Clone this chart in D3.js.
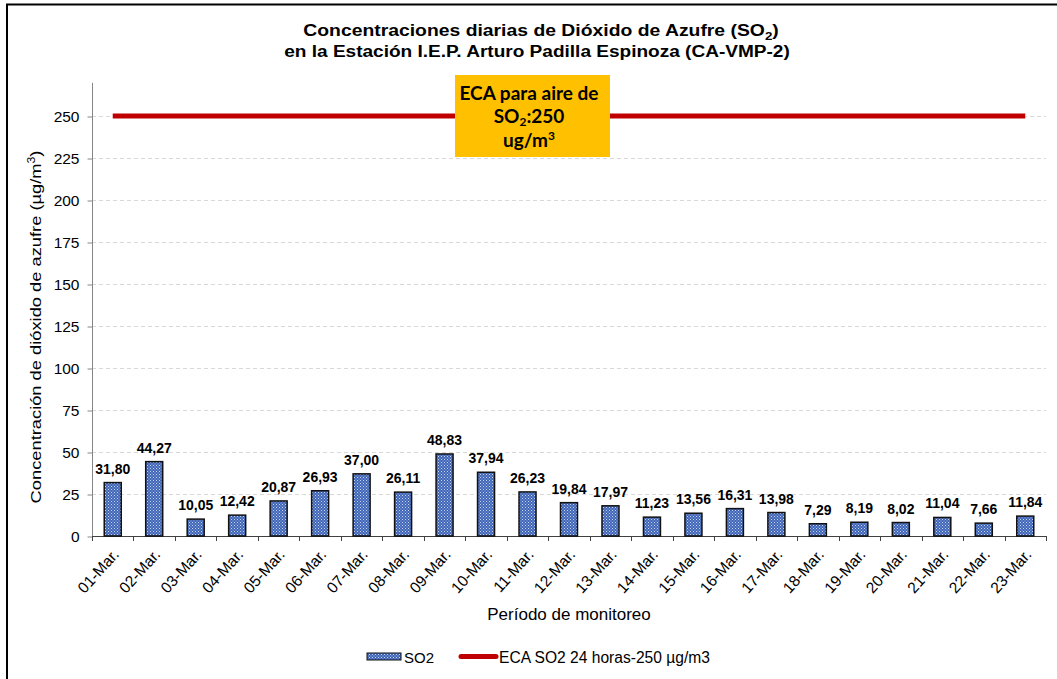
<!DOCTYPE html>
<html><head><meta charset="utf-8">
<script src="https://cdn.jsdelivr.net/npm/d3@7"></script>
<style>
html,body{margin:0;padding:0;background:#fff;}
svg{display:block;font-family:"Liberation Sans",Arial,sans-serif;}
</style></head><body>
<svg id="c" width="1057" height="679"></svg>
<script>
const categories = ["01-Mar.","02-Mar.","03-Mar.","04-Mar.","05-Mar.","06-Mar.","07-Mar.","08-Mar.","09-Mar.","10-Mar.","11-Mar.","12-Mar.","13-Mar.","14-Mar.","15-Mar.","16-Mar.","17-Mar.","18-Mar.","19-Mar.","20-Mar.","21-Mar.","22-Mar.","23-Mar."];
const so2 = [31.80,44.27,10.05,12.42,20.87,26.93,37.00,26.11,48.83,37.94,26.23,19.84,17.97,11.23,13.56,16.31,13.98,7.29,8.19,8.02,11.04,7.66,11.84];
const eca = categories.map(() => 250);
const yTicks = [0,25,50,75,100,125,150,175,200,225,250];

const svg = d3.select("#c");
const x = d3.scaleBand().domain(categories).range([92,1046]).paddingInner(0.59).paddingOuter(0.295);
const y = d3.scaleLinear().domain([0,270]).range([536, 536-270*420/250]);

// pattern
const defs = svg.append("defs");
const pat = defs.append("pattern").attr("id","dots").attr("patternUnits","userSpaceOnUse").attr("width",3).attr("height",3);
pat.append("rect").attr("width",3).attr("height",3).attr("fill","#4066b8");
pat.append("rect").attr("x",0).attr("y",0).attr("width",1).attr("height",1).attr("fill","#c8d5f0");
pat.append("rect").attr("x",1.5).attr("y",1.5).attr("width",1).attr("height",1).attr("fill","#aabde8");

// frame
svg.append("line").attr("x1",6).attr("x2",1057).attr("y1",4.5).attr("y2",4.5).attr("stroke","#000").attr("stroke-width",2);
svg.append("line").attr("x1",7).attr("x2",7).attr("y1",4).attr("y2",679).attr("stroke","#000").attr("stroke-width",2);

// gridlines
svg.append("g").selectAll("line").data(yTicks.filter(d=>d>0)).join("line")
  .attr("x1",92).attr("x2",1046).attr("y1",d=>Math.round(y(d))+0.5).attr("y2",d=>Math.round(y(d))+0.5)
  .attr("stroke","#d9d9d9").attr("stroke-dasharray","4,3").attr("stroke-width",1);

// axes
const yAxis = d3.axisLeft(y).tickValues(yTicks).tickSize(5).tickSizeOuter(0);
const gy = svg.append("g").attr("transform","translate(92.5,0.5)").call(yAxis);
gy.select(".domain").attr("stroke","#868686").attr("d","M0,"+(y(270))+"V"+y(0));
gy.selectAll(".tick line").attr("stroke","#868686");
gy.selectAll(".tick text").attr("font-size",15.5).attr("fill","#000").attr("font-family","'Liberation Sans'").attr("x",-13).attr("dy","0.35em");

const xAxis = d3.axisBottom(x).tickSize(0);
const gx = svg.append("g").attr("transform","translate(0,536.5)").call(xAxis);
gx.select(".domain").attr("stroke","#404040").attr("d","M92,0H1046");
gx.selectAll(".tick text").attr("font-size",15.5).attr("font-family","'Liberation Sans'").attr("fill","#000")
  .attr("text-anchor","end").attr("transform","translate(3,15) rotate(-48)").attr("x",0).attr("y",0).attr("dy","0.35em");
// band boundary ticks
svg.append("g").selectAll("line").data(d3.range(categories.length+1)).join("line")
  .attr("x1",i=>Math.round(92 + i*(954/23))+0.5).attr("x2",i=>Math.round(92 + i*(954/23))+0.5)
  .attr("y1",536).attr("y2",541).attr("stroke","#404040");

// bars
svg.append("g").selectAll("rect").data(so2).join("rect")
  .attr("x",(d,i)=>x(categories[i])).attr("width",x.bandwidth())
  .attr("y",d=>y(d)).attr("height",d=>y(0)-y(d))
  .attr("fill","url(#dots)").attr("stroke","#111").attr("stroke-width",1.5);

// labels
svg.append("g").selectAll("text").data(so2).join("text")
  .attr("x",(d,i)=>x(categories[i])+x.bandwidth()/2).attr("y",d=>y(d)-9)
  .attr("text-anchor","middle").attr("font-size",14).attr("font-weight","bold").attr("fill","#000")
  .text(d=>d.toFixed(2).replace(".",","));

// ECA line
const line = d3.line().x((d,i)=>x(categories[i])+x.bandwidth()/2).y(d=>y(d));
svg.append("path").datum(eca).attr("d",line).attr("fill","none").attr("stroke","#c00000").attr("stroke-width",5);

// yellow box
svg.append("rect").attr("x",455).attr("y",75).attr("width",155).attr("height",82).attr("fill","#ffc000");
const bt = svg.append("g").attr("font-family","Lato, 'Open Sans', sans-serif").attr("font-weight","bold").attr("font-size",19).attr("text-anchor","middle").attr("fill","#000");
bt.append("text").attr("x",529).attr("y",100).text("ECA para aire de");
const t2 = bt.append("text").attr("x",529).attr("y",123);
t2.append("tspan").text("SO");
t2.append("tspan").attr("font-size",12).attr("dy",3).text("2");
t2.append("tspan").attr("dy",-3).text(":250");
const t3 = bt.append("text").attr("x",529).attr("y",147);
t3.append("tspan").text("ug/m");
t3.append("tspan").attr("font-size",12).attr("dy",-7).text("3");

// title (horizontally widened to match reference)
const tt = svg.append("g").attr("font-weight","bold").attr("font-size",16).attr("text-anchor","middle").attr("fill","#000");
const l1 = tt.append("text").attr("transform","translate(541,36) scale(1.21,1)");
l1.append("tspan").text("Concentraciones diarias de Dióxido de Azufre (SO");
l1.append("tspan").attr("font-size",11).attr("dy",4).text("2");
l1.append("tspan").attr("dy",-4).text(")");
tt.append("text").attr("transform","translate(537,57) scale(1.19,1)").text("en la Estación I.E.P.  Arturo Padilla Espinoza (CA-VMP-2)");

// y title
const yt = svg.append("text").attr("transform","translate(41,327) rotate(-90) scale(1.22,1)").attr("text-anchor","middle").attr("font-size",15).attr("fill","#000");
yt.append("tspan").text("Concentración de dióxido de azufre (µg/m");
yt.append("tspan").attr("font-size",10).attr("dy",-6).text("3");
yt.append("tspan").attr("dy",6).text(")");

// x title
svg.append("text").attr("x",569).attr("y",620).attr("text-anchor","middle").attr("font-size",17).attr("fill","#000").text("Período de monitoreo");

// legend
svg.append("rect").attr("x",367).attr("y",653).attr("width",34).attr("height",7).attr("fill","url(#dots)").attr("stroke","#111").attr("stroke-width",1);
svg.append("text").attr("x",404).attr("y",663).attr("font-size",15).text("SO2");
svg.append("line").attr("x1",461).attr("x2",496).attr("y1",656.5).attr("y2",656.5).attr("stroke","#c00000").attr("stroke-width",5).attr("stroke-linecap","round");
svg.append("text").attr("x",499).attr("y",663).attr("font-size",15.6).text("ECA SO2 24 horas-250 µg/m3");
</script>
</body></html>
